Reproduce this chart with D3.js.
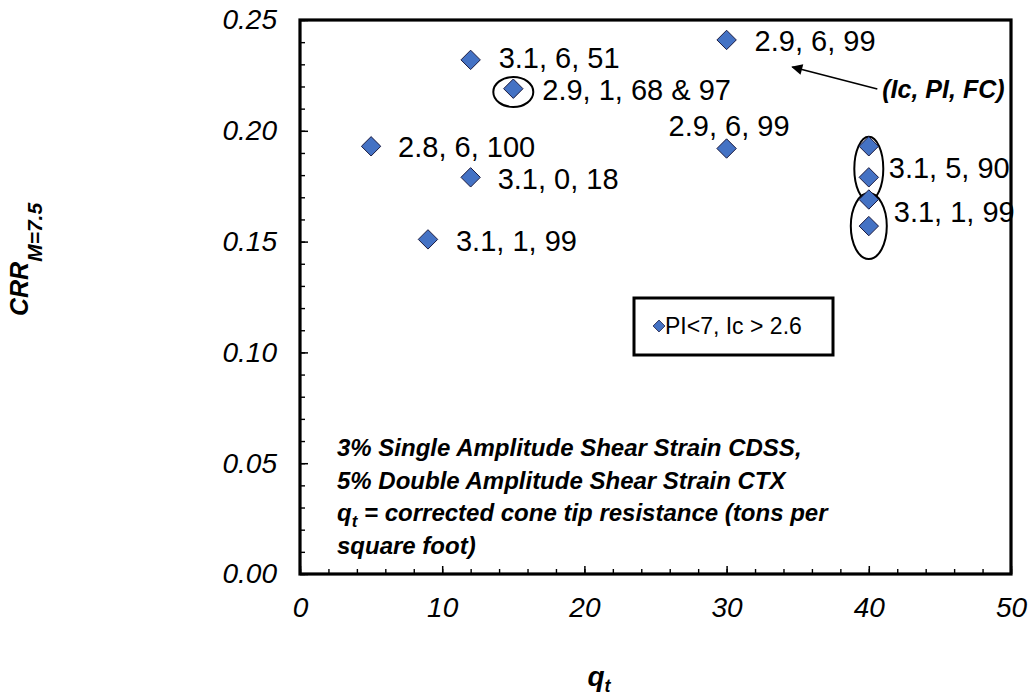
<!DOCTYPE html>
<html>
<head>
<meta charset="utf-8">
<script src="https://cdn.jsdelivr.net/npm/d3@7"></script>
<style>
  html, body { margin: 0; padding: 0; background: #fff; }
  svg { display: block; font-family: "Liberation Sans", Arial, sans-serif; }
</style>
</head>
<body>
<svg id="chart" width="1035" height="695"></svg>
<script>
// Cone tip resistance vs. cyclic resistance ratio
const qtValues  = [5, 9, 12, 12, 15, 30, 30, 40, 40, 40, 40];
const crrValues = [0.193, 0.151, 0.232, 0.179, 0.219, 0.241, 0.192, 0.193, 0.179, 0.169, 0.157];

// (Ic, PI, FC) point labels
const labelTexts = ["2.8, 6, 100", "3.1, 1, 99", "3.1, 6, 51", "3.1, 0, 18",
                    "2.9, 1, 68 & 97", "2.9, 6, 99", "2.9, 6, 99", "3.1, 5, 90", "3.1, 1, 99"];

const xTicks = [0, 10, 20, 30, 40, 50];
const yTicks = [0, 0.05, 0.10, 0.15, 0.20, 0.25];
const xMinor = d3.range(0, 50.001, 2);
const yMinor = d3.range(0, 0.2501, 0.01);

const noteLines = ["3% Single Amplitude Shear Strain CDSS,",
                   "5% Double Amplitude Shear Strain CTX",
                   "= corrected cone tip resistance (tons per",
                   "square foot)"];
const legendText = "PI<7, Ic > 2.6";

const svg = d3.select("#chart");
const plotL = 300, plotR = 1011, plotT = 20, plotB = 574;

const x = d3.scaleLinear().domain([0, 50]).range([plotL, plotR]);
const y = d3.scaleLinear().domain([0, 0.25]).range([plotB, plotT]);

const tickFont = "italic 28px 'Liberation Sans', Arial, sans-serif";

// minor ticks
svg.append("g").attr("transform", `translate(0,${plotB})`)
  .call(d3.axisBottom(x).tickValues(xMinor).tickSizeInner(-5).tickSizeOuter(0).tickFormat(""))
  .call(g => g.select(".domain").remove())
  .call(g => g.selectAll("line").attr("stroke", "#000").attr("stroke-width", 1.4));
svg.append("g").attr("transform", `translate(${plotL},0)`)
  .call(d3.axisLeft(y).tickValues(yMinor).tickSizeInner(-5).tickSizeOuter(0).tickFormat(""))
  .call(g => g.select(".domain").remove())
  .call(g => g.selectAll("line").attr("stroke", "#000").attr("stroke-width", 1.4));

// major ticks + labels
svg.append("g").attr("transform", `translate(0,${plotB})`)
  .call(d3.axisBottom(x).tickValues(xTicks).tickSizeInner(-8).tickSizeOuter(0).tickPadding(23).tickFormat(d3.format("d")))
  .call(g => g.select(".domain").remove())
  .call(g => g.selectAll("line").attr("stroke", "#000").attr("stroke-width", 1.5))
  .call(g => g.selectAll("text").attr("fill", "#000").style("font", tickFont));
svg.append("g").attr("transform", `translate(${plotL},0)`)
  .call(d3.axisLeft(y).tickValues(yTicks).tickSizeInner(-8).tickSizeOuter(0).tickPadding(23).tickFormat(d3.format(".2f")))
  .call(g => g.select(".domain").remove())
  .call(g => g.selectAll("line").attr("stroke", "#000").attr("stroke-width", 1.5))
  .call(g => g.selectAll("text").attr("fill", "#000").style("font", tickFont));

// plot frame
svg.append("rect")
  .attr("x", plotL).attr("y", plotT)
  .attr("width", plotR - plotL).attr("height", plotB - plotT)
  .attr("fill", "none").attr("stroke", "#000").attr("stroke-width", 3.2);

// group outlines
const rings = [
  { cx: 15, cy: 0.2175, rx: 20, ry: 15 },
  { cx: 40, cy: 0.1829, rx: 14.5, ry: 32 },
  { cx: 40, cy: 0.1570, rx: 18, ry: 33 }
];
svg.append("g").selectAll("ellipse").data(rings).join("ellipse")
  .attr("cx", d => x(d.cx)).attr("cy", d => y(d.cy))
  .attr("rx", d => d.rx).attr("ry", d => d.ry)
  .attr("fill", "none").attr("stroke", "#000").attr("stroke-width", 2);

// diamond markers
const diamond = d3.symbol().type(d3.symbolDiamond2).size(240);
const points = qtValues.map((q, i) => ({ q, c: crrValues[i] }));
svg.append("g").selectAll("path").data(points).join("path")
  .attr("d", diamond)
  .attr("transform", d => `translate(${x(d.q)},${y(d.c)})`)
  .attr("fill", "#4472C4").attr("stroke", "#1a1a40").attr("stroke-width", 1);

// point labels, anchored to the point they describe
const labelAnchors = [
  { i: 0, dx: 27, dy: 0 },
  { i: 1, dx: 28, dy: 1 },
  { i: 2, dx: 28, dy: -2 },
  { i: 3, dx: 27, dy: 1 },
  { i: 4, dx: 29, dy: 1 },
  { i: 5, dx: 28, dy: 1 },
  { i: 6, dx: -58, dy: -23 },
  { i: 8, dx: 20, dy: -10 },
  { i: 10, dx: 25, dy: -15 }
];
svg.append("g").selectAll("text").data(labelAnchors).join("text")
  .attr("x", d => x(qtValues[d.i]) + d.dx)
  .attr("y", d => y(crrValues[d.i]) + d.dy)
  .attr("dy", "0.36em")
  .style("font", "29px 'Liberation Sans', Arial, sans-serif")
  .attr("fill", "#000")
  .text((d, k) => labelTexts[k]);

// arrow to the label key
const defs = svg.append("defs");
defs.append("marker").attr("id", "head")
  .attr("viewBox", "0 0 10 10").attr("refX", 9).attr("refY", 5)
  .attr("markerWidth", 14).attr("markerHeight", 11).attr("markerUnits", "userSpaceOnUse")
  .attr("orient", "auto")
  .append("path").attr("d", "M0,0L10,5L0,10Z").attr("fill", "#000");
svg.append("line")
  .attr("x1", x(40.6)).attr("y1", y(0.2189))
  .attr("x2", x(34.62)).attr("y2", y(0.2288))
  .attr("stroke", "#000").attr("stroke-width", 1.6)
  .attr("marker-end", "url(#head)");
svg.append("text")
  .attr("x", x(40.95)).attr("y", y(0.2148))
  .style("font", "italic bold 25px 'Liberation Sans', Arial, sans-serif")
  .attr("fill", "#000")
  .text("(Ic, PI, FC)");

// legend
const lg = svg.append("g");
lg.append("rect")
  .attr("x", 634).attr("y", 298).attr("width", 199).attr("height", 57)
  .attr("fill", "#fff").attr("stroke", "#000").attr("stroke-width", 3);
lg.append("path").attr("d", d3.symbol().type(d3.symbolDiamond2).size(90))
  .attr("transform", "translate(659,326)")
  .attr("fill", "#4472C4").attr("stroke", "#1a1a40").attr("stroke-width", 0.8);
lg.append("text").attr("x", 665).attr("y", 326).attr("dy", "0.36em")
  .style("font", "23px 'Liberation Sans', Arial, sans-serif")
  .attr("fill", "#000").text(legendText);

// test description note
const noteFont = "italic bold 24px 'Liberation Sans', Arial, sans-serif";
const note = svg.append("g").style("font", noteFont).attr("fill", "#000");
[0, 1, 3].forEach(k => {
  note.append("text").attr("x", 337).attr("y", 456 + k * 32.7).text(noteLines[k]);
});
const l3 = note.append("text").attr("x", 337).attr("y", 456 + 2 * 32.7);
l3.append("tspan").text("q");
l3.append("tspan").attr("dy", 6).style("font-size", "17px").text("t");
l3.append("tspan").attr("dy", -6).text(" " + noteLines[2]);

// axis titles
const xt = svg.append("text").attr("x", 599).attr("y", 686)
  .attr("text-anchor", "middle")
  .style("font", "italic bold 28px 'Liberation Sans', Arial, sans-serif").attr("fill", "#000");
xt.append("tspan").text("q");
xt.append("tspan").attr("dy", 6).style("font-size", "18px").text("t");

const yt = svg.append("text")
  .attr("transform", "translate(28,316) rotate(-90)")
  .attr("text-anchor", "start")
  .style("font", "italic bold 25px 'Liberation Sans', Arial, sans-serif").attr("fill", "#000");
yt.append("tspan").text("CRR");
yt.append("tspan").attr("dy", 14).style("font-size", "21px").text("M=7.5");
</script>
</body>
</html>
